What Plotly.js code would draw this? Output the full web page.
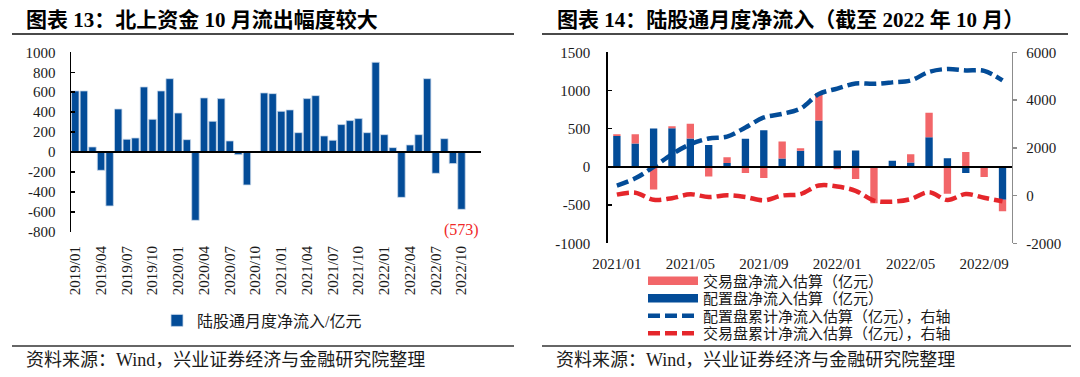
<!DOCTYPE html>
<html>
<head>
<meta charset="utf-8">
<script src="https://cdn.plot.ly/plotly-3.0.1.min.js"></script>
<style>
html,body{margin:0;padding:0;background:#fff;}
#chart{width:1080px;height:377px;}
</style>
</head>
<body>
<div id="chart"></div>
<script>
// ---------- Chart 13 data ----------
const monthsA = ['2019/01','2019/02','2019/03','2019/04','2019/05','2019/06','2019/07','2019/08','2019/09','2019/10','2019/11','2019/12',
  '2020/01','2020/02','2020/03','2020/04','2020/05','2020/06','2020/07','2020/08','2020/09','2020/10','2020/11','2020/12',
  '2021/01','2021/02','2021/03','2021/04','2021/05','2021/06','2021/07','2021/08','2021/09','2021/10','2021/11','2021/12',
  '2022/01','2022/02','2022/03','2022/04','2022/05','2022/06','2022/07','2022/08','2022/09','2022/10'];
const northFlow = [613, 613, 52, -182, -539, 432, 129, 142, 653, 329, 613, 736,
  392, 125, -683, 543, 309, 536, 112, -25, -329, 2, 593, 586,
  409, 423, 195, 536, 566, 162, 119, 276, 316, 336, 195, 900,
  175, 45, -453, 72, 175, 736, -212, 135, -115, -573];
const tickValsA = ['2019/01','2019/04','2019/07','2019/10','2020/01','2020/04','2020/07','2020/10',
  '2021/01','2021/04','2021/07','2021/10','2022/01','2022/04','2022/07','2022/10'];
const yTicksA = [-800, -600, -400, -200, 0, 200, 400, 600, 800, 1000];
const yLabelsA = ['-800','-600','-400','-200','0','200','400','600','800','1000'];

// ---------- Chart 14 data ----------
const monthsB = ['2021/01','2021/02','2021/03','2021/04','2021/05','2021/06','2021/07','2021/08','2021/09','2021/10','2021/11','2021/12',
  '2022/01','2022/02','2022/03','2022/04','2022/05','2022/06','2022/07','2022/08','2022/09','2022/10'];
const allocFlow = [406, 306, 503, 507, 371, 288, 52, 367, 481, 109, 210, 607, 214, 214, 0, 79, 59, 389, 112, -79, 0, -430];
const tradeFlow = [22, 122, -297, 26, 193, -127, 75, -79, -144, 223, 35, 359, -31, -157, -476, 0, 107, 319, -350, 194, -131, -150];
const allocCum = [420, 720, 1200, 1730, 2150, 2390, 2470, 2850, 3270, 3420, 3645, 4250, 4480, 4690, 4680, 4740, 4820, 5180, 5300, 5240, 5220, 4820];
const tradeCum = [40, 120, -180, -110, 50, -60, 10, -60, -200, 0, 60, 420, 377, 200, -210, -255, -150, 140, -185, 60, -95, -240];
const tickValsB = ['2021/01','2021/05','2021/09','2022/01','2022/05','2022/09'];
const yTicksB = [-1000, -500, 0, 500, 1000, 1500];
const yLabelsB = ['-1000','-500','0','500','1000','1500'];
const yTicksB2 = [-2000, 0, 2000, 4000, 6000];
const yLabelsB2 = ['-2000','0','2000','4000','6000'];

const FONT = 'Liberation Serif, "Noto Sans CJK SC", serif';
const BLUE = '#034C98';
const PINK = '#F26669';
const RED = '#E5262B';
const W = 1080, H = 377;
const px = v => v / W;
const py = v => 1 - v / H;

const traces = [
  {type:'bar', x: monthsA, y: northFlow, xaxis:'x', yaxis:'y', name:'陆股通月度净流入/亿元',
   marker:{color: BLUE, line:{color:'#c9d8ea', width:0.8}}, legend:'legend'},
  {type:'bar', x: monthsB, y: allocFlow, xaxis:'x2', yaxis:'y2', name:'配置盘净流入估算（亿元）', width:0.4,
   marker:{color: BLUE}, showlegend:false, legendgroup:'alloc'},
  {type:'bar', x: monthsB, y: tradeFlow, xaxis:'x2', yaxis:'y2', name:'交易盘净流入估算（亿元）', width:0.4,
   marker:{color: PINK}, showlegend:false, legendgroup:'trade'},
  {type:'scatter', mode:'lines', x: monthsB, y: allocCum, xaxis:'x2', yaxis:'y3', name:'配置盘累计净流入估算（亿元），右轴',
   line:{color: BLUE, width:4.5, dash:'12px,5px', shape:'spline', smoothing:1}, legend:'legend4'},
  {type:'scatter', mode:'lines', x: monthsB, y: tradeCum, xaxis:'x2', yaxis:'y3', name:'交易盘累计净流入估算（亿元），右轴',
   line:{color: RED, width:4.5, dash:'12px,5px', shape:'spline', smoothing:1}, legend:'legend5'},
  // legend swatches for the stacked bars (drawn as thick bands like the original)
  {type:'scatter', mode:'lines', x:[null], y:[null], xaxis:'x2', yaxis:'y2', name:'交易盘净流入估算（亿元）',
   line:{color: PINK, width:8.5}, legend:'legend2', legendgroup:'trade'},
  {type:'scatter', mode:'lines', x:[null], y:[null], xaxis:'x2', yaxis:'y2', name:'配置盘净流入估算（亿元）',
   line:{color: BLUE, width:8.5}, legend:'legend3', legendgroup:'alloc'}
];

const tickFont = {family: FONT, size: 15, color:'#1a1a1a'};
const legFont = {family: FONT, size: 15, color:'#1a1a1a'};
const legBase = {xanchor:'left', yanchor:'middle', bgcolor:'rgba(0,0,0,0)', borderwidth:0, font: legFont, traceorder:'normal'};

const layout = {
  width: W, height: H,
  margin:{l:0, r:0, t:0, b:0},
  paper_bgcolor:'#ffffff', plot_bgcolor:'rgba(0,0,0,0)',
  font:{family: FONT, size: 15, color:'#1a1a1a'},
  barmode:'relative', bargap:0.13,
  showlegend:true,
  xaxis:{domain:[px(71), px(481)], anchor:'y', type:'category', tickmode:'array', tickvals: tickValsA,
    tickangle:-90, ticks:'', showline:false, showgrid:false, zeroline:false, ticklabelstandoff:10, tickfont: tickFont, fixedrange:true},
  yaxis:{domain:[py(232), py(52.3)], anchor:'x', range:[-800, 1000], tickmode:'array', tickvals: yTicksA, ticktext: yLabelsA,
    showline:true, linecolor:'#000', linewidth:1.5, ticks:'inside', ticklen:4, tickcolor:'#000', tickwidth:1.5,
    showgrid:false, zeroline:true, zerolinecolor:'#000', zerolinewidth:1.5, zerolinelayer:'above traces',
    ticklabelstandoff:11, tickfont: tickFont, fixedrange:true},
  xaxis2:{domain:[px(607.7), px(1011.7)], anchor:'y2', type:'category', tickmode:'array', tickvals: tickValsB,
    tickangle:0, ticks:'', showline:false, showgrid:false, zeroline:false, ticklabelstandoff:10, tickfont: tickFont, fixedrange:true},
  yaxis2:{domain:[py(243.3), py(52.3)], anchor:'x2', range:[-1000, 1500], tickmode:'array', tickvals: yTicksB, ticktext: yLabelsB,
    showline:true, linecolor:'#000', linewidth:1.5, ticks:'inside', ticklen:4, tickcolor:'#000', tickwidth:1.5,
    showgrid:false, zeroline:true, zerolinecolor:'#000', zerolinewidth:1.5, zerolinelayer:'above traces',
    ticklabelstandoff:13, tickfont: tickFont, fixedrange:true},
  yaxis3:{overlaying:'y2', side:'right', anchor:'x2', range:[-2000, 6000], tickmode:'array', tickvals: yTicksB2, ticktext: yLabelsB2,
    showline:true, linecolor:'#8c8c8c', linewidth:1.5, ticks:'outside', ticklen:4, tickcolor:'#8c8c8c', tickwidth:1.5,
    showgrid:false, zeroline:false, ticklabelstandoff:6, tickfont: tickFont, fixedrange:true},
  legend: Object.assign({}, legBase, {x: px(157), y: py(320.5), itemwidth:30, font:{family: FONT, size:16, color:'#1a1a1a'}}),
  legend2: Object.assign({}, legBase, {x: px(643), y: py(281), itemwidth:50}),
  legend3: Object.assign({}, legBase, {x: px(643), y: py(298.5), itemwidth:50}),
  legend4: Object.assign({}, legBase, {x: px(643), y: py(316), itemwidth:50}),
  legend5: Object.assign({}, legBase, {x: px(643), y: py(333.5), itemwidth:50}),
  shapes:[
    {type:'line', xref:'paper', yref:'paper', x0:px(12), x1:px(514), y0:py(34), y1:py(34), line:{color:'#4a4a4a', width:2}},
    {type:'line', xref:'paper', yref:'paper', x0:px(542), x1:px(1068), y0:py(34), y1:py(34), line:{color:'#4a4a4a', width:2}},
    {type:'line', xref:'paper', yref:'paper', x0:px(12), x1:px(514), y0:py(346), y1:py(346), line:{color:'#333', width:1.5}},
    {type:'line', xref:'paper', yref:'paper', x0:px(542), x1:px(1071), y0:py(346), y1:py(346), line:{color:'#333', width:1.5}}
  ],
  annotations:[
    {xref:'paper', yref:'paper', x:px(24), y:py(20), xanchor:'left', yanchor:'middle', showarrow:false,
     text:'图表 13：北上资金 10 月流出幅度较大', font:{family: FONT, size:21, color:'#000', weight:'bold'}},
    {xref:'paper', yref:'paper', x:px(555), y:py(20), xanchor:'left', yanchor:'middle', showarrow:false,
     text:'图表 14：陆股通月度净流入（截至 2022 年 10 月）', font:{family: FONT, size:21, color:'#000', weight:'bold'}},
    {xref:'paper', yref:'paper', x:px(24), y:py(360), xanchor:'left', yanchor:'middle', showarrow:false,
     text:'资料来源：Wind，兴业证券经济与金融研究院整理', font:{family: FONT, size:18, color:'#1a1a1a'}},
    {xref:'paper', yref:'paper', x:px(554), y:py(360), xanchor:'left', yanchor:'middle', showarrow:false,
     text:'资料来源：Wind，兴业证券经济与金融研究院整理', font:{family: FONT, size:18, color:'#1a1a1a'}},
    {xref:'x', yref:'y', x: monthsA[monthsA.length-1], y: northFlow[northFlow.length-1], xanchor:'center', yanchor:'top',
     yshift:-10, showarrow:false, text:'(' + Math.abs(northFlow[northFlow.length-1]) + ')',
     font:{family: FONT, size:16, color:'#F02828'}}
  ]
};

Plotly.newPlot('chart', traces, layout, {staticPlot:true, displayModeBar:false});
</script>
</body>
</html>
